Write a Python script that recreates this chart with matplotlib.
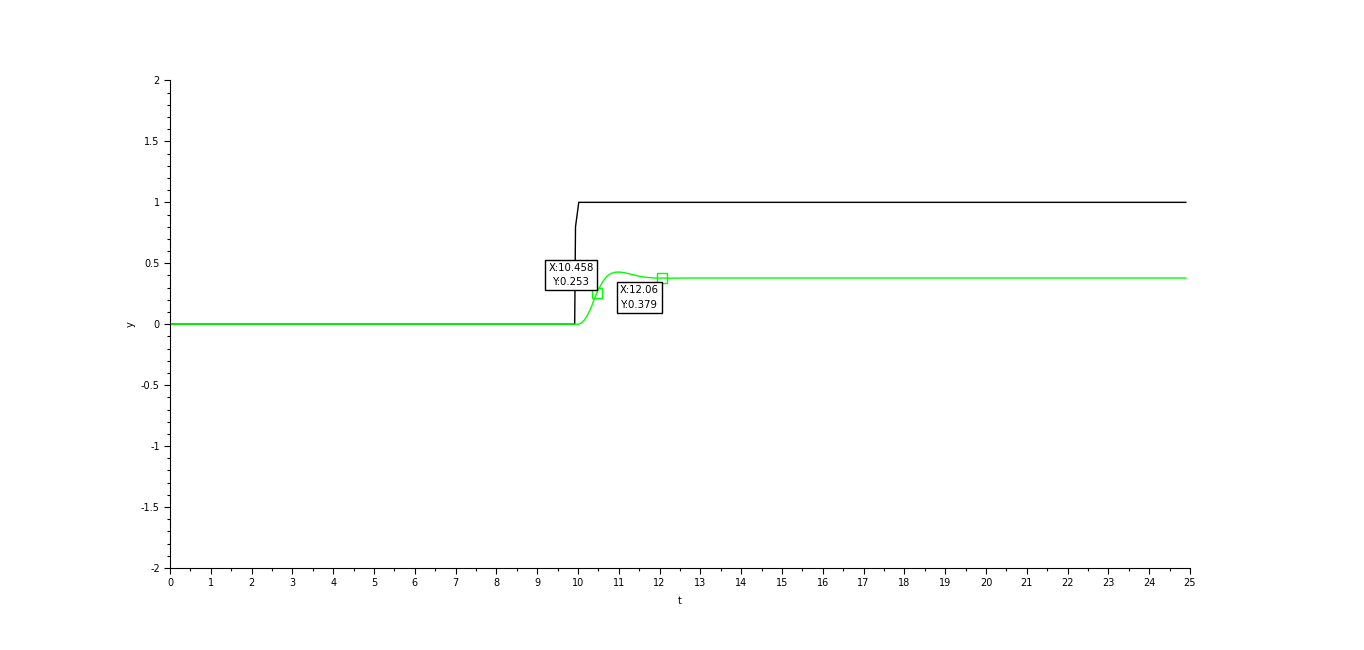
import matplotlib
matplotlib.use('Agg')
import matplotlib.pyplot as plt
from matplotlib.ticker import MultipleLocator

# input step (black)
t_in = [0.0, 9.92, 9.94, 10.02, 24.9]
y_in = [0.0, 0.0, 0.8, 1.0, 1.0]

# system response (green)
t_out = [0.0, 10.0, 10.05, 10.1, 10.15, 10.2, 10.25, 10.3, 10.35, 10.4, 10.458, 10.5, 10.6, 10.7, 10.8, 10.9,
         11.0, 11.1, 11.2, 11.3, 11.4, 11.5, 11.6, 11.7, 11.8, 11.9, 12.06, 12.3, 12.6, 24.9]
y_out = [0.0, 0.0, 0.004, 0.015, 0.032, 0.055, 0.085, 0.12, 0.16, 0.205, 0.253, 0.285, 0.345, 0.39, 0.415, 0.426,
         0.428, 0.425, 0.418, 0.41, 0.402, 0.394, 0.388, 0.384, 0.381, 0.379, 0.379, 0.378, 0.379, 0.379]

# datatips
tips_x = [10.458, 12.06]
tips_y = [0.253, 0.379]
tips_text = ['X:10.458\nY:0.253', 'X:12.06\nY:0.379']

fig = plt.figure(figsize=(13.64, 6.5), dpi=100)
ax = fig.add_axes([0.1246, 0.1262, 0.7478, 0.75])

ax.plot(t_in, y_in, color='black', lw=1)
ax.plot(t_out, y_out, color='#00ff00', lw=1)
ax.plot(tips_x, tips_y, 's', ms=6.5, mfc='none', mec='#00ff00', mew=1, ls='none')

ax.annotate(tips_text[0], (tips_x[0], tips_y[0]), xytext=(-3, 6), textcoords='offset pixels',
            ha='right', va='bottom', fontsize=7.3, multialignment='center', linespacing=1.6,
            bbox=dict(boxstyle='square,pad=0.3', fc='white', ec='black', lw=1))
ax.annotate(tips_text[1], (tips_x[1], tips_y[1]), xytext=(-3, -7), textcoords='offset pixels',
            ha='right', va='top', fontsize=7.3, multialignment='center', linespacing=1.6,
            bbox=dict(boxstyle='square,pad=0.3', fc='white', ec='black', lw=1))

ax.set_xlim(0, 25)
ax.set_ylim(-2, 2)
ax.set_xticks(range(26))
ax.set_xticklabels([str(i) for i in range(26)])
ax.xaxis.set_minor_locator(MultipleLocator(0.5))
ax.set_yticks([-2, -1.5, -1, -0.5, 0, 0.5, 1, 1.5, 2])
ax.set_yticklabels(['-2', '-1.5', '-1', '-0.5', '0', '0.5', '1', '1.5', '2'])
ax.yaxis.set_minor_locator(MultipleLocator(0.1))
ax.tick_params(which='major', direction='out', length=4.3, width=0.8, labelsize=7, pad=3)
ax.tick_params(which='minor', direction='out', length=2.2, width=0.8)

for s in ['top', 'right']:
    ax.spines[s].set_visible(False)
for s in ['left', 'bottom']:
    ax.spines[s].set_linewidth(0.8)

ax.set_xlabel('t', fontsize=7, labelpad=6)
ax.set_ylabel('y', fontsize=7, labelpad=4)

fig.savefig('out.png', dpi=100)
